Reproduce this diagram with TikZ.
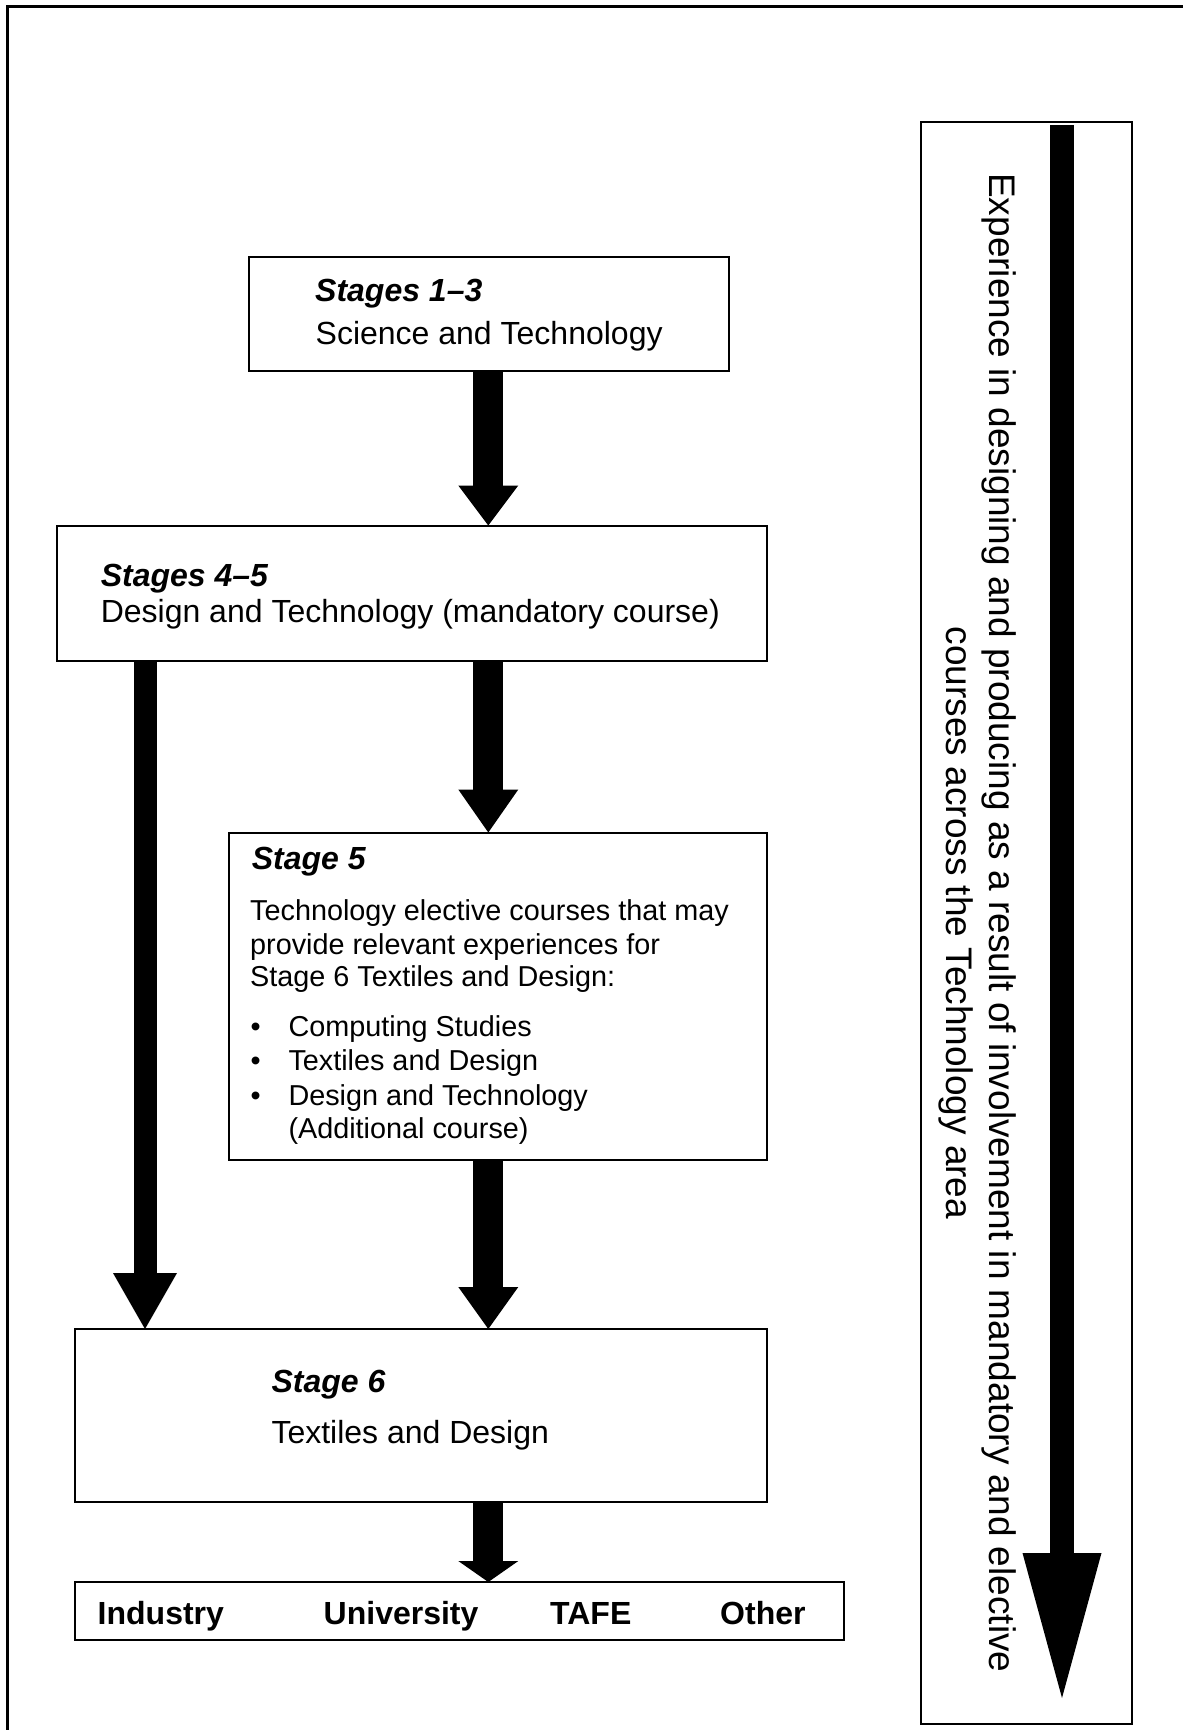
\documentclass[tikz,border=0pt]{standalone}
\usepackage{fontspec}
\setmainfont{Liberation Sans}
\usetikzlibrary{arrows.meta}
\newcommand\myfs[1]{\fontsize{#1}{#1}\selectfont}
\begin{document}
\begin{tikzpicture}[x=1pt,y=-1pt,
  box/.style={draw, line width=2pt, inner sep=0pt, outer sep=0pt},
  fatarrow/.style n args={3}{line width=#1, -{Triangle[length=#2 0 0, width=#3 0 0, line width=0pt]}},
  hd/.style={font=\myfs{32}\bfseries\itshape, anchor=base west, inner sep=0pt},
  tx/.style={font=\myfs{32}, anchor=base west, inner sep=0pt},
  sm/.style={font=\myfs{28.8}, anchor=base west, inner sep=0pt},
  ob/.style={font=\myfs{32}\bfseries, anchor=base west, inner sep=0pt},
  vt/.style={font=\myfs{37}, rotate=-90, anchor=base, inner sep=0pt}]
\useasboundingbox (0,0) rectangle (1183,1730);
% outer frame (top and left edges)
\draw[line width=3pt] (7.5,1730) -- (7.5,6.5) -- (1183,6.5);

% boxes
\node[box, minimum width=480pt, minimum height=114pt] (s13) at (489.4,314.2) {};
\node[box, minimum width=710.5pt, minimum height=135.5pt] (s45) at (411.75,593.25) {};
\node[box, minimum width=538pt, minimum height=327.5pt] (s5) at (498,996.25) {};
\node[box, minimum width=692pt, minimum height=173pt] (s6) at (421,1415.5) {};
\node[box, minimum width=769pt, minimum height=58pt] (out) at (459.5,1611) {};
\node[box, minimum width=211pt, minimum height=1601.5pt] (rb) at (1026.5,922.75) {};

% arrow axes
\coordinate (cA) at (488.3,0);
\coordinate (cL) at (145,0);
\coordinate (rtop) at (1062,125);
\coordinate (rtip) at (1062,1698);

% texts
\node[hd] (t13a) at (315,301.7) {Stages 1–3};
\node[tx] (t13b) at (315.5,344.3) {Science and Technology};

\node[hd] (t45a) at (100.6,586) {Stages 4–5};
\node[tx] (t45b) at (100.6,622.3) {Design and Technology (mandatory course)};

\node[hd] (t5a) at (251.7,869.3) {Stage 5};
\node[sm] (t5b) at (250,920.7) {Technology elective courses that may};
\node[sm] (t5c) at (250,954) {provide relevant experiences for};
\node[sm] (t5d) at (250,986.7) {Stage 6 Textiles and Design:};
\node[sm] (b1) at (250.5,1036.7) {•};
\node[sm] (b2) at (250.5,1070.7) {•};
\node[sm] (b3) at (250.5,1105) {•};
\node[sm] (l1) at (288.3,1036.7) {Computing Studies};
\node[sm] (l2) at (288.3,1070.7) {Textiles and Design};
\node[sm] (l3) at (288.3,1105) {Design and Technology};
\node[sm] (l4) at (288.3,1138.3) {(Additional course)};

\node[hd] (t6a) at (271.3,1392.5) {Stage 6};
\node[tx] (t6b) at (271.3,1443.8) {Textiles and Design};

\node[ob] (o1) at (97.5,1624) {Industry};
\node[ob] (o2) at (323.5,1624) {University};
\node[ob] (o3) at (550,1624) {TAFE};
\node[ob] (o4) at (720,1624) {Other};

\node[vt] (v1) at (989.3,923) {Experience in designing and producing as a result of involvement in mandatory and elective};
\node[vt] (v2) at (946.7,923) {courses across the Technology area};

% arrows
\draw[fatarrow={30pt}{40pt}{60pt}] (cA |- s13.south) -- (cA |- s45.north);
\draw[fatarrow={30pt}{43pt}{60pt}] (cA |- s45.south) -- (cA |- s5.north);
\draw[fatarrow={30pt}{42pt}{60pt}] (cA |- s5.south) -- (cA |- s6.north);
\draw[fatarrow={30pt}{21pt}{60pt}] (cA |- s6.south) -- (cA |- out.north);
\draw[fatarrow={23pt}{56pt}{64pt}] (cL |- s45.south) -- (cL |- s6.north);
\draw[fatarrow={24pt}{145pt}{79pt}] (rtop) -- (rtip);
\end{tikzpicture}
\end{document}
